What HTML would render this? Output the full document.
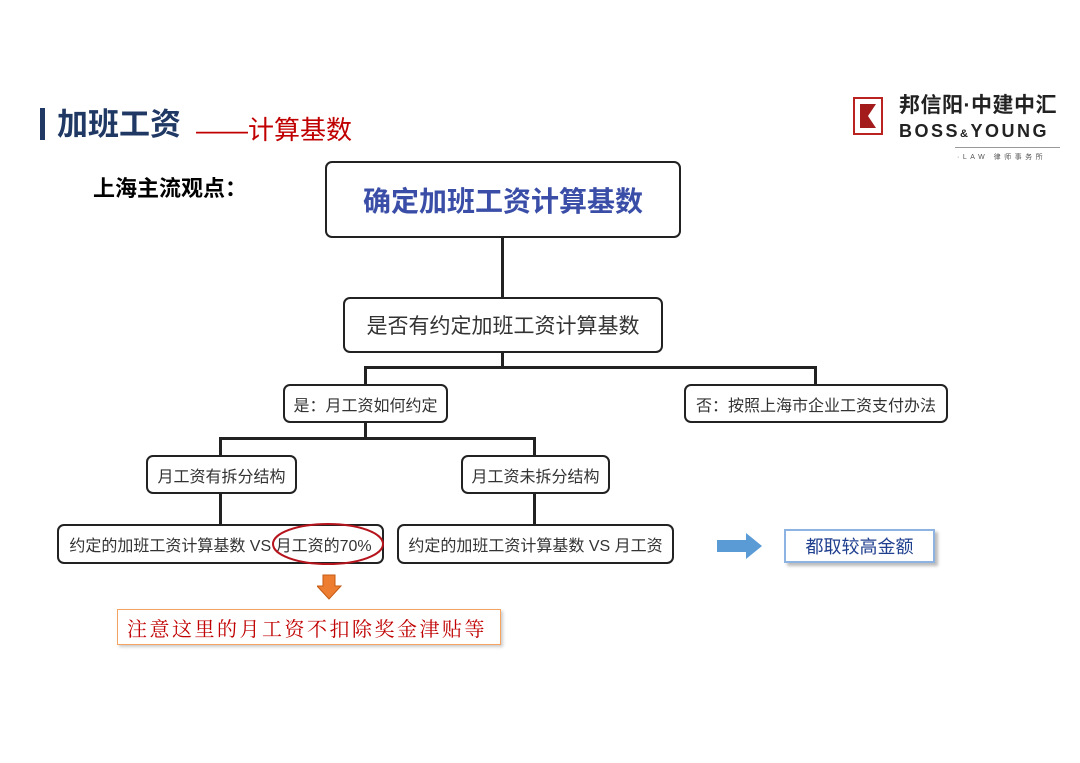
<!DOCTYPE html>
<html><head><meta charset="utf-8"><style>
body{margin:0;width:1080px;height:763px;background:#fff;position:relative;overflow:hidden;font-family:"Liberation Sans","Noto Sans CJK SC",sans-serif}
.a{position:absolute}
.b{position:absolute;border:2.5px solid #222;border-radius:7px;box-sizing:border-box;display:flex;align-items:center;justify-content:center;white-space:nowrap;color:#333;background:#fff}
.l{position:absolute;background:#222}
</style></head><body>
<div class="a" style="left:40px;top:108px;width:5px;height:32px;background:#1f3864"></div>
<div class="a" style="left:57px;top:105px;font-size:31px;font-weight:bold;color:#1f3864;line-height:40px">加班工资</div>
<div class="a" style="left:196px;top:112px;font-size:26px;color:#c00000;line-height:36px">——计算基数</div>
<div class="a" style="left:93px;top:173px;font-size:22px;font-weight:bold;color:#000;line-height:32px">上海主流观点：</div>

<div class="a" style="left:853px;top:97px;width:30px;height:38px;border:2px solid #b22;box-sizing:border-box;background:#fff"></div>
<svg class="a" style="left:853px;top:97px" width="30" height="38"><path d="M7 7 H23 L15 19 L23 31 H7 Z" fill="#a31b1b"/></svg>
<div class="a" style="left:899px;top:93px;font-size:21px;font-weight:bold;color:#222;line-height:26px;letter-spacing:0.5px">邦信阳·中建中汇</div>
<div class="a" style="left:899px;top:120px;font-size:18px;font-weight:bold;color:#222;letter-spacing:2.5px;line-height:22px">BOSS<span style="font-size:11px">&amp;</span>YOUNG</div>
<div class="a" style="left:955px;top:147px;width:105px;height:1px;background:#999"></div>
<div class="a" style="left:957px;top:152px;font-size:7px;color:#555;letter-spacing:3.5px">·LAW 律师事务所</div>

<div class="l" style="left:501px;top:237px;width:2.5px;height:60px"></div>
<div class="l" style="left:501px;top:352px;width:2.5px;height:16px"></div>
<div class="l" style="left:364px;top:366px;width:452px;height:2.5px"></div>
<div class="l" style="left:364px;top:366px;width:2.5px;height:18px"></div>
<div class="l" style="left:814px;top:366px;width:2.5px;height:18px"></div>
<div class="l" style="left:364px;top:422px;width:2.5px;height:16px"></div>
<div class="l" style="left:219px;top:437px;width:317px;height:2.5px"></div>
<div class="l" style="left:219px;top:437px;width:2.5px;height:18px"></div>
<div class="l" style="left:533px;top:437px;width:2.5px;height:18px"></div>
<div class="l" style="left:219px;top:493px;width:2.5px;height:31px"></div>
<div class="l" style="left:533px;top:493px;width:2.5px;height:31px"></div>

<div class="b" style="left:325px;top:161px;width:356px;height:77px;font-size:28px;font-weight:bold;color:#3a4ea8">确定加班工资计算基数</div>
<div class="b" style="left:343px;top:297px;width:320px;height:56px;font-size:21px">是否有约定加班工资计算基数</div>
<div class="b" style="left:283px;top:384px;width:165px;height:39px;font-size:16px">是：月工资如何约定</div>
<div class="b" style="left:684px;top:384px;width:264px;height:39px;font-size:16px">否：按照上海市企业工资支付办法</div>
<div class="b" style="left:146px;top:455px;width:151px;height:39px;font-size:16px">月工资有拆分结构</div>
<div class="b" style="left:461px;top:455px;width:149px;height:39px;font-size:16px">月工资未拆分结构</div>
<div class="b" style="left:57px;top:524px;width:327px;height:40px;font-size:16px">约定的加班工资计算基数 VS 月工资的70%</div>
<div class="b" style="left:397px;top:524px;width:277px;height:40px;font-size:16px">约定的加班工资计算基数 VS 月工资</div>
<svg class="a" style="left:270px;top:520px" width="116" height="48"><ellipse cx="58" cy="24" rx="55" ry="20" fill="none" stroke="#b5141c" stroke-width="2"/></svg>

<svg class="a" style="left:716px;top:532px" width="48" height="28"><path d="M1 8 H30 V1 L46 14 L30 27 V20 H1 Z" fill="#5b9bd5"/></svg>
<div class="a" style="left:784px;top:529px;width:151px;height:34px;border:2px solid #8db3e2;box-sizing:border-box;box-shadow:3px 3px 3px #bbb;background:#fff;color:#1f3f8f;font-size:18px;display:flex;align-items:center;justify-content:center">都取较高金额</div>

<svg class="a" style="left:317px;top:574px" width="25" height="26"><path d="M6 1 H18 V12 H24 L12 25 L0 12 H6 Z" fill="#ed7d31" stroke="#c55a11" stroke-width="1"/></svg>
<div class="a" style="left:117px;top:609px;width:384px;height:36px;border:1.5px solid #f4a460;box-sizing:border-box;box-shadow:2px 2px 3px #ccc;background:#fff;color:#c00000;font-family:'Liberation Serif','Noto Serif CJK SC',serif;font-size:20px;letter-spacing:2.5px;display:flex;align-items:center;padding-left:9px">注意这里的月工资不扣除奖金津贴等</div>
</body></html>
